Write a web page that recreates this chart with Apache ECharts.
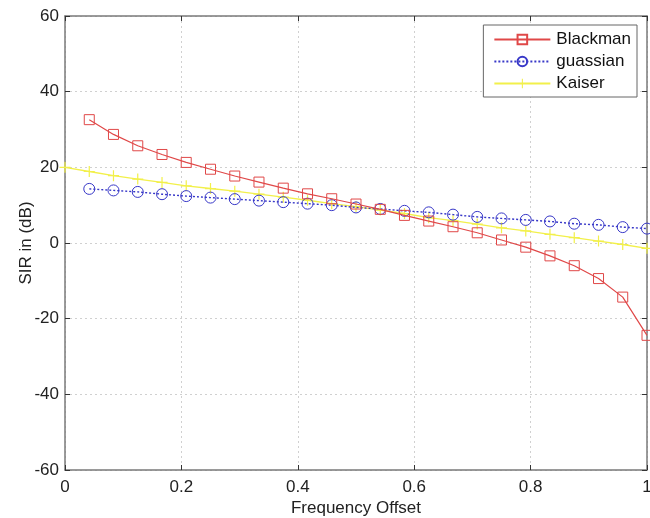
<!DOCTYPE html>
<html>
<head>
<meta charset="utf-8">
<script src="https://cdn.jsdelivr.net/npm/echarts@6/dist/echarts.min.js"></script>
<style>
  html, body { margin: 0; padding: 0; background: #fff; }
  #chart { width: 650px; height: 518px; }
</style>
</head>
<body>
<div id="chart"></div>
<script>
// Frequency offsets at which each window was evaluated
const freqOffset = [0.0417, 0.0833, 0.125, 0.1667, 0.2083, 0.25, 0.2917, 0.3333,
  0.375, 0.4167, 0.4583, 0.5, 0.5417, 0.5833, 0.625, 0.6667, 0.7083, 0.75,
  0.7917, 0.8333, 0.875, 0.9167, 0.9583, 1.0];
const kaiserOffset = [0].concat(freqOffset);

// SIR (dB) per window
const blackman = [32.6, 28.7, 25.7, 23.4, 21.3, 19.5, 17.7, 16.1, 14.5, 13.0, 11.7, 10.3,
  8.9, 7.3, 5.8, 4.3, 2.7, 0.8, -1.1, -3.4, -6.0, -9.4, -14.3, -24.4];
const guassian = [14.3, 13.9, 13.5, 12.9, 12.4, 12.0, 11.6, 11.2, 10.8, 10.4, 10.0, 9.4,
  9.0, 8.5, 8.1, 7.5, 6.9, 6.5, 6.1, 5.7, 5.1, 4.8, 4.2, 3.8];
const kaiser = [20.0, 18.9, 17.8, 16.9, 16.0, 15.1, 14.4, 13.7, 12.9, 12.1, 11.3, 10.4,
  9.6, 8.7, 7.8, 6.7, 5.9, 5.0, 4.0, 3.2, 2.3, 1.4, 0.5, -0.4, -1.4];

const xTicks = [0, 0.2, 0.4, 0.6, 0.8, 1];
const yTicks = [-60, -40, -20, 0, 20, 40, 60];

const FONT = 'Liberation Sans, Arial, sans-serif';
const frame = '#7a7a7a';
const hollow = 'rgba(255,255,255,0)';
const plusSymbol = 'path://M4.45,0H5.55V4.45H10V5.55H5.55V10H4.45V5.55H0V4.45H4.45Z';

function pairs(xs, ys) { return xs.map((x, i) => [x, ys[i]]); }

const chart = echarts.init(document.getElementById('chart'), null, { renderer: 'canvas' });

const baseX = {
  type: 'value', min: xTicks[0], max: xTicks[xTicks.length - 1], interval: 0.2,
  axisLine: { show: true, onZero: false, lineStyle: { color: frame, width: 1.5 } },
  axisTick: { show: true, inside: true, length: 5, lineStyle: { color: '#333' } },
  splitLine: { show: false }
};
const baseY = {
  type: 'value', min: yTicks[0], max: yTicks[yTicks.length - 1], interval: 20,
  axisLine: { show: true, onZero: false, lineStyle: { color: frame, width: 1.5 } },
  axisTick: { show: true, inside: true, length: 5, lineStyle: { color: '#333' } },
  splitLine: { show: false }
};

chart.setOption({
  animation: false,
  backgroundColor: '#fff',
  grid: { left: 65, right: 3, top: 16, bottom: 48, containLabel: false, outerBoundsMode: 'none' },
  legend: {
    orient: 'vertical', right: 13, top: 25,
    padding: [6, 6, 5, 10], itemGap: 5,
    itemWidth: 56, itemHeight: 12,
    backgroundColor: '#fff', borderColor: '#666', borderWidth: 1,
    textStyle: { fontFamily: FONT, fontSize: 17, color: '#111', padding: [0, 0, 0, 1] },
    data: ['Blackman', 'guassian', 'Kaiser']
  },
  xAxis: [
    Object.assign({}, baseX, {
      position: 'bottom',
      name: 'Frequency Offset', nameLocation: 'middle', nameGap: 30, nameMoveOverlap: false,
      nameTextStyle: { fontFamily: FONT, fontSize: 17, color: '#222' },
      axisLabel: { margin: 9, fontFamily: FONT, fontSize: 17, color: '#222' },
      splitLine: { show: true, lineStyle: { color: '#d0d0d0', type: [2, 3], width: 1 } }
    }),
    Object.assign({}, baseX, { position: 'top', axisLabel: { show: false } })
  ],
  yAxis: [
    Object.assign({}, baseY, {
      position: 'left',
      name: 'SIR in (dB)', nameLocation: 'middle', nameGap: 30, nameRotate: 90, nameMoveOverlap: false,
      nameTextStyle: { fontFamily: FONT, fontSize: 17, color: '#222' },
      axisLabel: { margin: 6, fontFamily: FONT, fontSize: 17, color: '#222' },
      splitLine: { show: true, lineStyle: { color: '#d0d0d0', type: [2, 3], width: 1 } }
    }),
    Object.assign({}, baseY, { position: 'right', axisLabel: { show: false } })
  ],
  series: [
    {
      name: 'Blackman', type: 'line', xAxisIndex: 0, yAxisIndex: 0,
      data: pairs(freqOffset, blackman),
      symbol: 'rect', symbolSize: 10,
      lineStyle: { color: '#e04848', width: 1.2 },
      itemStyle: { color: hollow, borderColor: '#e04848', borderWidth: 1 },
      z: 3
    },
    {
      name: 'guassian', type: 'line', xAxisIndex: 0, yAxisIndex: 0,
      data: pairs(freqOffset, guassian),
      symbol: 'circle', symbolSize: 11,
      lineStyle: { color: '#3838c8', width: 1.4, type: [2, 2] },
      itemStyle: { color: hollow, borderColor: '#3838c8', borderWidth: 1 },
      z: 2
    },
    {
      name: 'Kaiser', type: 'line', xAxisIndex: 0, yAxisIndex: 0,
      data: pairs(kaiserOffset, kaiser),
      symbol: plusSymbol, symbolSize: 11,
      lineStyle: { color: '#f2f04a', width: 1.3 },
      itemStyle: { color: '#f2f04a' },
      z: 1
    }
  ]
});
</script>
</body>
</html>
